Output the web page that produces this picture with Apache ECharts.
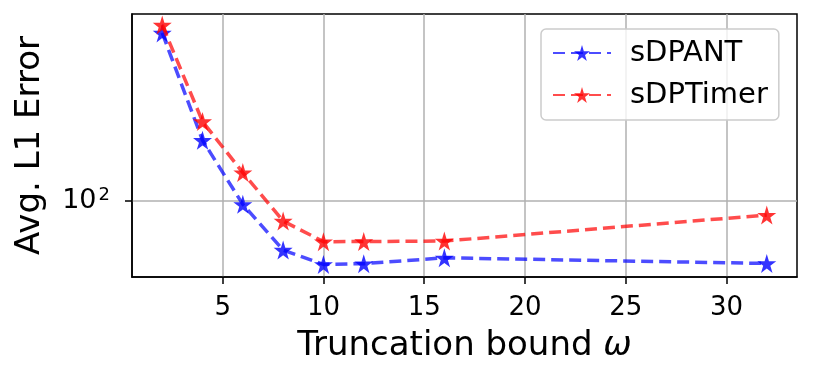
<!DOCTYPE html>
<html>
<head>
    <meta charset="utf-8">
    <title>Truncation bound</title>
    <script src="https://cdn.jsdelivr.net/npm/echarts@6/dist/echarts.min.js"></script>
    <style>
        html, body { margin: 0; padding: 0; background: #fff; }
        #chart1 { width: 830px; height: 374px; }
    </style>
</head>
<body>
<div id="chart1"></div>
<script type="text/javascript">
    // truncation bound on x, avg L1 error on y (log)
    var bounds = [2, 4, 6, 8, 10, 12, 16, 32];
    var sdpant = [470, 175, 97, 63.7, 55.8, 56.2, 59.3, 56.3];
    var sdptimer = [506, 208, 130, 83.2, 68.8, 68.9, 69.2, 87.9];
    var xTicks = [5, 10, 15, 20, 25, 30];
    var yTicks = [100];

    var star = 'path://M50,0 L61,35 L98,35 L68,57 L79,91 L50,70 L21,91 L32,57 L2,35 L39,35 Z';
    var font = 'DejaVu Sans';

    function pairs(xs, ys) {
        return xs.map(function (x, i) { return [x, ys[i]]; });
    }

    var myChart = echarts.init(document.getElementById('chart1'), null, {renderer: 'canvas'});
    var option = {
        animation: false,
        backgroundColor: '#fff',
        textStyle: {fontFamily: font},
        grid: {
            left: 132, right: 33, top: 14, bottom: 97,
            show: true, borderColor: '#000', borderWidth: 1.5,
            containLabel: false
        },
        legend: {
            orient: 'vertical',
            left: 541, top: 29,
            padding: [9, 11, 10, 11],
            itemGap: 12,
            itemWidth: 58,
            itemHeight: 20,
            backgroundColor: 'rgba(255,255,255,0.8)',
            borderColor: '#cccccc',
            borderWidth: 1.5,
            borderRadius: 5,
            textStyle: {fontFamily: font, fontSize: 29, lineHeight: 30, color: '#000', padding: [0, 0, 0, 14]},
            data: ['sDPANT', 'sDPTimer']
        },
        xAxis: {
            type: 'value',
            min: 0.5, max: 33.5,
            name: 'Truncation bound {i|ω}',
            nameLocation: 'middle',
            nameGap: 52,
            nameTextStyle: {
                fontFamily: font, fontSize: 34, color: '#000',
                rich: {i: {fontFamily: font, fontStyle: 'italic', fontSize: 34, color: '#000'}}
            },
            axisLine: {show: true, lineStyle: {color: '#000', width: 1.5}},
            axisTick: {show: true, length: 7, lineStyle: {color: '#000', width: 1.5}, customValues: xTicks},
            axisLabel: {fontFamily: font, fontSize: 26, color: '#000', margin: 18, customValues: xTicks},
            splitLine: {show: true, lineStyle: {color: '#b0b0b0', width: 1.5}}
        },
        yAxis: {
            type: 'log',
            logBase: 10,
            min: 49.7, max: 559.8,
            name: 'Avg. L1 Error',
            nameLocation: 'middle',
            nameGap: 85,
            nameTextStyle: {fontFamily: font, fontSize: 34, color: '#000'},
            axisLine: {show: true, lineStyle: {color: '#000', width: 1.5}},
            axisTick: {show: true, length: 7, lineStyle: {color: '#000', width: 1.5}, customValues: yTicks},
            axisLabel: {
                fontFamily: font, color: '#000', margin: 22,
                customValues: yTicks,
                formatter: function (v) { return '{a|10}{b|2}'; },
                rich: {
                    a: {fontFamily: font, fontSize: 27, color: '#000'},
                    b: {fontFamily: font, fontSize: 18, color: '#000', verticalAlign: 'bottom', padding: [0, 0, 12, 2]}
                }
            },
            splitLine: {show: true, lineStyle: {color: '#b0b0b0', width: 1.5}}
        },
        series: [{
            name: 'sDPANT',
            type: 'line',
            data: pairs(bounds, sdpant),
            symbol: star,
            symbolSize: 19,
            itemStyle: {color: '#0000ff', opacity: 0.8},
            lineStyle: {color: 'rgba(0,0,255,0.7)', width: 3.5, type: [12, 6]},
            z: 2
        }, {
            name: 'sDPTimer',
            type: 'line',
            data: pairs(bounds, sdptimer),
            symbol: star,
            symbolSize: 19,
            itemStyle: {color: '#ff0000', opacity: 0.8},
            lineStyle: {color: 'rgba(255,0,0,0.7)', width: 3.5, type: [12, 6]},
            z: 3
        }]
    };
    myChart.setOption(option);
</script>
</body>
</html>
